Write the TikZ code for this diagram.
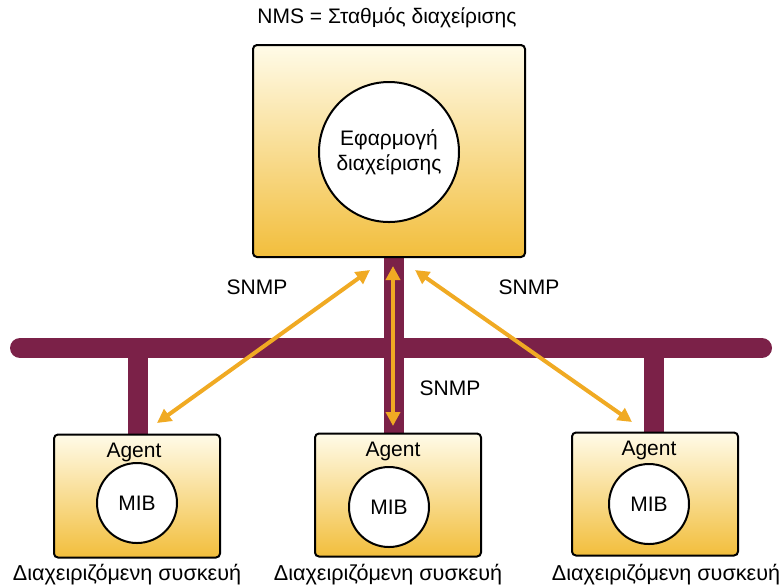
\documentclass[tikz,border=0pt]{standalone}
\usepackage{fontspec}
\setmainfont{Liberation Sans}
\usepackage{xcolor}
\usetikzlibrary{arrows.meta,positioning,calc}
\definecolor{busred}{RGB}{123,33,72}
\definecolor{snmporange}{RGB}{240,170,35}
\definecolor{boxtop}{RGB}{255,251,232}
\definecolor{boxmid}{RGB}{250,230,160}
\definecolor{boxbottom}{RGB}{242,190,60}
\tikzset{
  stationbox/.style={draw=black,line width=1pt,rounded corners=2pt,
    top color=boxtop,middle color=boxmid,bottom color=boxbottom},
  devicebox/.style={stationbox,minimum width=83pt,minimum height=61.5pt},
  dbcircle/.style={circle,draw=black,line width=1pt,fill=white,align=center,
    inner sep=1pt,font=\fontsize{10.5}{12.5}\selectfont},
  buslink/.style={draw=busred,line width=10pt},
  snmparrow/.style={{Triangle[length=7pt,width=7pt]}-{Triangle[length=7pt,width=7pt]},
    draw=snmporange,line width=2pt},
  plainlabel/.style={font=\fontsize{10.5}{12.5}\selectfont,align=center},
  devlabel/.style={font=\fontsize{10.8}{13}\selectfont}
}

\begin{document}
\begin{tikzpicture}[x=0.5pt,y=-0.5pt]
  \useasboundingbox (0,0) rectangle (782,586);
  % bus and drops
  \draw[buslink,line cap=round] (20,348) -- (762,348);
  \draw[buslink] (138,348) -- (138,436);
  \draw[buslink] (394,250) -- (394,434);
  \draw[buslink] (654,348) -- (654,434);
  % management station
  \node[plainlabel] (nmstitle) at (387,18) {NMS = Σταθμός διαχείρισης};
  \node[stationbox,minimum width=136pt,minimum height=106pt] (nms) at (389,151) {};
  \node[dbcircle,minimum size=70pt] (app) at (389,152) {Εφαρμογή\\διαχείρισης};
  % managed devices
  \node[devicebox] (devA) at (137,496) {};
  \node[devicebox] (devB) at (398,495) {};
  \node[devicebox] (devC) at (655,494) {};
  \node[plainlabel] (agentA) at (134,452) {Agent};
  \node[plainlabel] (agentB) at (393,451) {Agent};
  \node[plainlabel] (agentC) at (649,450) {Agent};
  \node[dbcircle,minimum size=40pt] (mibA) at (137,503) {MIB};
  \node[dbcircle,minimum size=40pt] (mibB) at (389,507) {MIB};
  \node[dbcircle,minimum size=40pt] (mibC) at (649,504) {MIB};
  \node[devlabel] (labelA) at (127,575) {Διαχειριζόμενη συσκευή};
  \node[devlabel] (labelB) at (388,575) {Διαχειριζόμενη συσκευή};
  \node[devlabel] (labelC) at (666,575) {Διαχειριζόμενη συσκευή};
  % SNMP arrows
  \coordinate (nmsL) at (370,270);
  \coordinate (nmsM) at (393,266);
  \coordinate (nmsR) at (415,270);
  \coordinate (devAtop) at (157,423);
  \coordinate (devBtop) at (393,426);
  \coordinate (devCtop) at (632,422);
  \draw[snmparrow] (nmsL) -- (devAtop);
  \draw[snmparrow] (nmsM) -- (devBtop);
  \draw[snmparrow] (nmsR) -- (devCtop);
  \node[plainlabel] (snmpL) at (257,287) {SNMP};
  \node[plainlabel] (snmpR) at (529,287) {SNMP};
  \node[plainlabel] (snmpM) at (450,388) {SNMP};
\end{tikzpicture}
\end{document}
